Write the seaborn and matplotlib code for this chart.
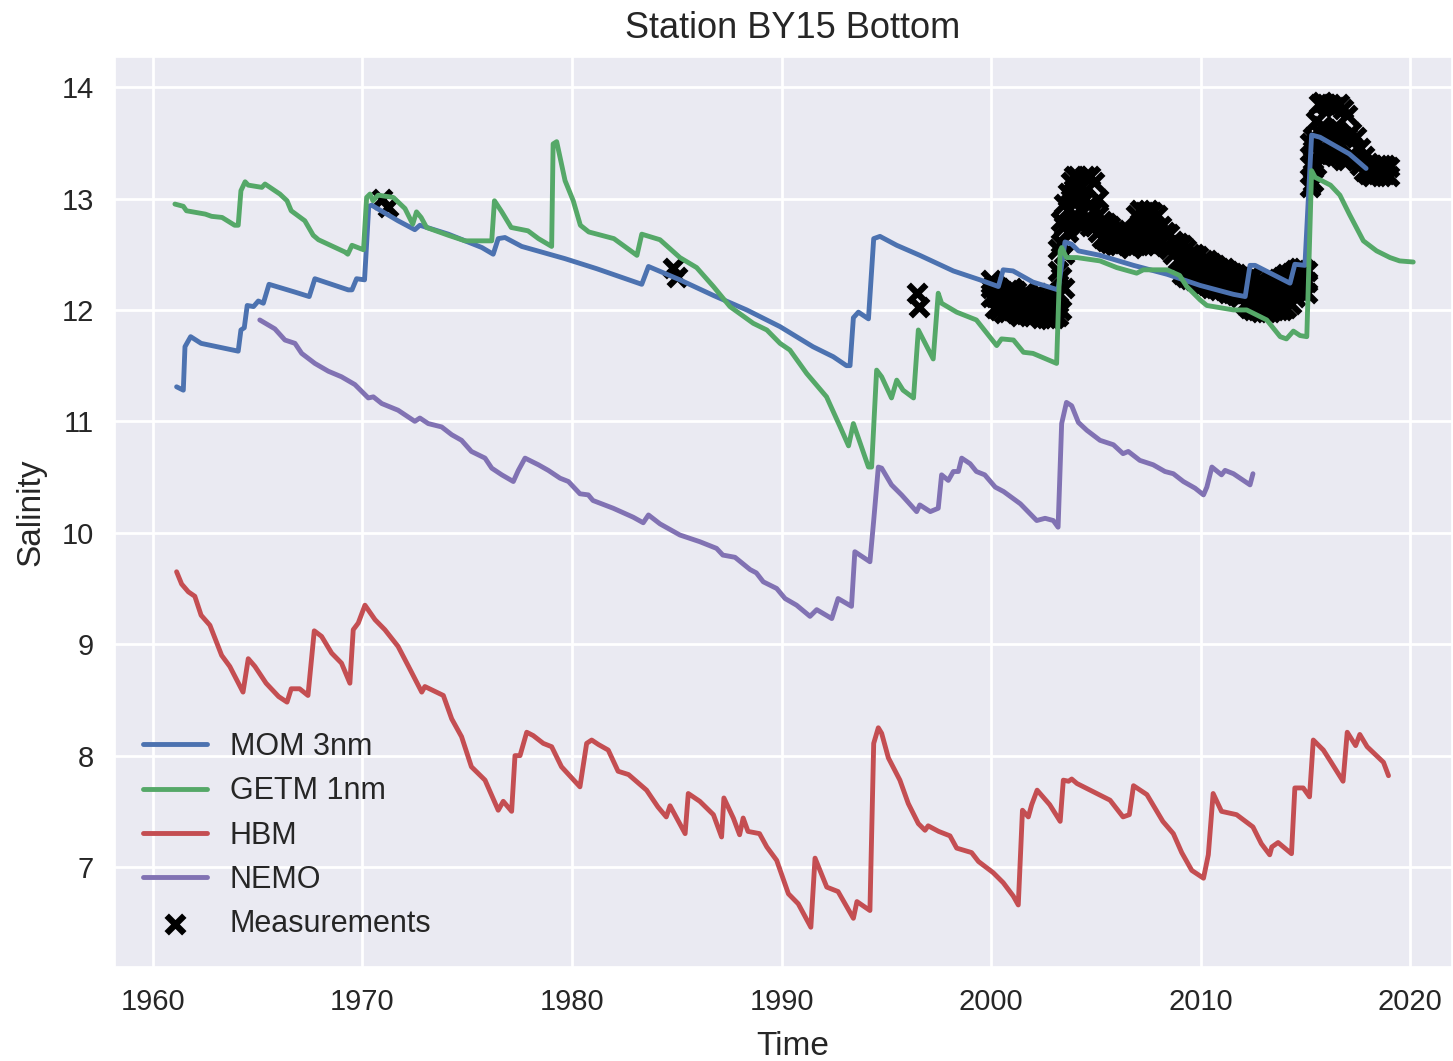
import matplotlib
matplotlib.use("Agg")
import matplotlib.pyplot as plt
import seaborn as sns

# MOM 3nm bottom salinity (decimal year, psu)
mom_years = [1961.13, 1961.45, 1961.53, 1961.8, 1962.3, 1964.07, 1964.2, 1964.36, 1964.5, 1964.8,
             1965.03, 1965.27, 1965.54, 1966.78, 1967.46, 1967.73, 1969.32, 1969.5, 1969.72, 1970.1,
             1970.3, 1970.44, 1971.7, 1972.5, 1972.74, 1974.1, 1975.7, 1976.24, 1976.48, 1976.8,
             1977.6, 1979.67, 1981.18, 1983.33, 1983.65, 1985.15, 1986.75, 1988.34, 1989.93, 1991.5,
             1992.47, 1993.1, 1993.27, 1993.43, 1993.67, 1994.15, 1994.4, 1994.7, 1995.5, 1996.6,
             1998.2, 1999.47, 2000.35, 2000.58, 2001.05, 2002.0, 2003.2, 2003.53, 2003.85, 2004.17,
             2005.2, 2006.8, 2008.4, 2009.98, 2011.57, 2012.13, 2012.36, 2012.6, 2014.27, 2014.5,
             2014.98, 2015.3, 2015.7, 2017.1, 2017.9]
mom_sal = [11.31, 11.28, 11.67, 11.76, 11.70, 11.63, 11.82, 11.84, 12.04, 12.03,
           12.08, 12.06, 12.23, 12.16, 12.12, 12.28, 12.18, 12.18, 12.28, 12.27,
           12.93, 12.94, 12.80, 12.72, 12.76, 12.68, 12.56, 12.50, 12.64, 12.65,
           12.57, 12.46, 12.37, 12.23, 12.39, 12.27, 12.13, 12.00, 11.85, 11.67,
           11.58, 11.50, 11.50, 11.93, 11.98, 11.92, 12.64, 12.66, 12.58, 12.49,
           12.35, 12.27, 12.21, 12.36, 12.35, 12.25, 12.18, 12.61, 12.59, 12.53,
           12.49, 12.40, 12.32, 12.22, 12.14, 12.12, 12.40, 12.40, 12.24, 12.41,
           12.40, 13.57, 13.55, 13.40, 13.27]

# GETM 1nm
getm_years = [1961.05, 1961.45, 1961.6, 1962.5, 1962.8, 1963.3, 1963.9, 1964.07, 1964.2, 1964.4,
              1964.55, 1965.2, 1965.35, 1966.06, 1966.4, 1966.6, 1967.25, 1967.65, 1967.9, 1969.16,
              1969.3, 1969.5, 1970.05, 1970.2, 1970.36, 1970.5, 1970.75, 1971.47, 1972.03, 1972.4,
              1972.58, 1972.8, 1973.06, 1974.1, 1974.9, 1976.17, 1976.3, 1976.65, 1977.1, 1977.9,
              1978.4, 1979.03, 1979.1, 1979.27, 1979.67, 1980.06, 1980.4, 1980.8, 1982.0, 1983.1,
              1983.33, 1984.2, 1985.15, 1985.95, 1986.75, 1987.54, 1988.65, 1989.3, 1989.93, 1990.4,
              1991.2, 1992.15, 1992.8, 1993.2, 1993.43, 1994.15, 1994.3, 1994.54, 1994.78, 1995.25,
              1995.5, 1995.8, 1996.3, 1996.53, 1997.24, 1997.48, 1997.64, 1998.36, 1999.3, 2000.27,
              2000.5, 2001.07, 2001.55, 2002.0, 2003.13, 2003.3, 2003.37, 2003.6, 2004.1, 2005.2,
              2006.0, 2006.95, 2007.27, 2008.4, 2009.0, 2009.34, 2009.98, 2010.3, 2011.57, 2012.2,
              2013.16, 2013.8, 2014.1, 2014.43, 2014.75, 2015.07, 2015.3, 2015.47, 2016.2, 2016.65,
              2017.1, 2017.77, 2018.4, 2019.04, 2019.5, 2020.15]
getm_sal = [12.95, 12.93, 12.89, 12.86, 12.84, 12.83, 12.76, 12.76, 13.07, 13.15,
            13.12, 13.10, 13.13, 13.04, 12.98, 12.89, 12.80, 12.67, 12.63, 12.52,
            12.50, 12.58, 12.54, 13.01, 13.04, 12.98, 13.03, 13.01, 12.91, 12.77,
            12.88, 12.83, 12.74, 12.67, 12.62, 12.62, 12.98, 12.88, 12.74, 12.71,
            12.64, 12.57, 13.49, 13.51, 13.16, 12.98, 12.76, 12.70, 12.64, 12.49,
            12.68, 12.63, 12.47, 12.38, 12.21, 12.03, 11.88, 11.82, 11.70, 11.64,
            11.43, 11.22, 10.95, 10.78, 10.98, 10.59, 10.59, 11.46, 11.40, 11.21,
            11.37, 11.28, 11.21, 11.82, 11.56, 12.15, 12.06, 11.98, 11.91, 11.68,
            11.74, 11.73, 11.62, 11.61, 11.52, 12.53, 12.56, 12.47, 12.47, 12.44,
            12.38, 12.33, 12.36, 12.36, 12.31, 12.21, 12.09, 12.04, 12.00, 12.00,
            11.91, 11.76, 11.74, 11.81, 11.77, 11.76, 13.25, 13.19, 13.12, 13.03,
            12.86, 12.62, 12.53, 12.47, 12.44, 12.43]

# HBM
hbm_years = [1961.13, 1961.37, 1961.69, 1962.0, 1962.3, 1962.72, 1963.28, 1963.67, 1964.3, 1964.55,
             1964.87, 1965.4, 1966.0, 1966.4, 1966.6, 1967.0, 1967.4, 1967.7, 1968.05, 1968.53,
             1969.0, 1969.4, 1969.56, 1969.8, 1970.12, 1970.6, 1971.07, 1971.7, 1972.2, 1972.83,
             1972.98, 1973.86, 1974.26, 1974.73, 1975.2, 1975.85, 1976.48, 1976.72, 1977.12, 1977.28,
             1977.52, 1977.84, 1978.15, 1978.63, 1979.03, 1979.5, 1980.38, 1980.7, 1980.94, 1981.26,
             1981.73, 1982.2, 1982.7, 1983.56, 1984.1, 1984.5, 1984.68, 1985.4, 1985.55, 1986.1,
             1986.75, 1987.14, 1987.25, 1987.7, 1988.0, 1988.17, 1988.4, 1988.95, 1989.3, 1989.77,
             1990.33, 1990.8, 1991.4, 1991.6, 1992.16, 1992.7, 1993.43, 1993.6, 1994.22, 1994.4,
             1994.62, 1994.78, 1995.1, 1995.65, 1996.05, 1996.53, 1996.85, 1997.0, 1997.5, 1998.04,
             1998.36, 1999.07, 1999.4, 2000.1, 2000.58, 2001.06, 2001.3, 2001.5, 2001.78, 2001.94,
             2002.2, 2002.8, 2003.3, 2003.45, 2003.7, 2003.85, 2004.1, 2005.68, 2006.3, 2006.6,
             2006.8, 2007.44, 2008.2, 2008.7, 2009.1, 2009.58, 2010.14, 2010.37, 2010.6, 2011.0,
             2011.72, 2012.5, 2012.9, 2013.3, 2013.4, 2013.7, 2014.34, 2014.5, 2014.9, 2015.2,
             2015.38, 2015.86, 2016.2, 2016.8, 2017.0, 2017.4, 2017.6, 2017.95, 2018.73, 2018.97]
hbm_sal = [9.65, 9.54, 9.47, 9.43, 9.26, 9.17, 8.90, 8.80, 8.57, 8.87,
           8.80, 8.65, 8.53, 8.48, 8.60, 8.60, 8.54, 9.12, 9.07, 8.92,
           8.83, 8.65, 9.13, 9.19, 9.35, 9.22, 9.13, 8.98, 8.80, 8.57,
           8.62, 8.54, 8.33, 8.17, 7.90, 7.78, 7.51, 7.59, 7.50, 8.00,
           8.00, 8.21, 8.18, 8.11, 8.08, 7.90, 7.72, 8.11, 8.14, 8.10,
           8.05, 7.86, 7.83, 7.69, 7.54, 7.45, 7.55, 7.30, 7.66, 7.59,
           7.47, 7.27, 7.62, 7.44, 7.29, 7.44, 7.32, 7.30, 7.18, 7.06,
           6.76, 6.67, 6.46, 7.08, 6.82, 6.78, 6.54, 6.69, 6.61, 8.11,
           8.25, 8.20, 7.98, 7.78, 7.57, 7.39, 7.33, 7.37, 7.32, 7.28,
           7.17, 7.13, 7.05, 6.95, 6.86, 6.74, 6.66, 7.51, 7.45, 7.56,
           7.69, 7.56, 7.41, 7.78, 7.77, 7.79, 7.75, 7.60, 7.45, 7.47,
           7.73, 7.65, 7.41, 7.30, 7.13, 6.97, 6.90, 7.11, 7.66, 7.50,
           7.47, 7.36, 7.21, 7.11, 7.18, 7.22, 7.12, 7.71, 7.71, 7.63,
           8.14, 8.05, 7.95, 7.77, 8.21, 8.09, 8.19, 8.08, 7.94, 7.82]

# NEMO
nemo_years = [1965.1, 1965.82, 1966.3, 1966.78, 1967.1, 1967.73, 1968.37, 1969.0, 1969.64, 1970.28,
              1970.52, 1970.92, 1971.7, 1972.5, 1972.74, 1973.14, 1973.78, 1974.26, 1974.73, 1975.2,
              1975.85, 1976.17, 1976.65, 1977.2, 1977.44, 1977.76, 1978.4, 1978.87, 1979.43, 1979.83,
              1980.38, 1980.78, 1981.0, 1981.97, 1982.92, 1983.4, 1983.65, 1984.2, 1985.15, 1986.1,
              1986.9, 1987.2, 1987.78, 1988.5, 1988.8, 1989.13, 1989.77, 1990.17, 1990.72, 1991.36,
              1991.68, 1992.4, 1992.7, 1993.34, 1993.5, 1994.22, 1994.4, 1994.62, 1994.78, 1995.25,
              1995.73, 1996.45, 1996.6, 1997.1, 1997.48, 1997.64, 1997.96, 1998.2, 1998.44, 1998.6,
              1999.0, 1999.3, 1999.7, 2000.2, 2000.6, 2001.4, 2002.18, 2002.58, 2002.97, 2003.2,
              2003.37, 2003.6, 2003.85, 2004.17, 2004.57, 2005.2, 2005.84, 2006.3, 2006.55, 2007.1,
              2007.74, 2008.3, 2008.7, 2009.18, 2009.74, 2010.14, 2010.3, 2010.54, 2011.0, 2011.17,
              2011.57, 2012.36, 2012.5]
nemo_sal = [11.91, 11.83, 11.73, 11.70, 11.61, 11.52, 11.45, 11.40, 11.33, 11.21,
            11.22, 11.16, 11.10, 11.00, 11.03, 10.98, 10.95, 10.88, 10.83, 10.73,
            10.67, 10.58, 10.52, 10.46, 10.56, 10.67, 10.61, 10.56, 10.49, 10.46,
            10.35, 10.34, 10.29, 10.22, 10.14, 10.09, 10.16, 10.08, 9.98, 9.92,
            9.86, 9.80, 9.78, 9.67, 9.64, 9.56, 9.50, 9.41, 9.35, 9.25,
            9.31, 9.23, 9.41, 9.34, 9.83, 9.74, 10.11, 10.59, 10.58, 10.43,
            10.34, 10.19, 10.25, 10.19, 10.22, 10.52, 10.47, 10.55, 10.55, 10.67,
            10.62, 10.55, 10.52, 10.41, 10.37, 10.26, 10.11, 10.13, 10.11, 10.05,
            10.98, 11.17, 11.14, 10.99, 10.92, 10.83, 10.79, 10.71, 10.73, 10.65,
            10.61, 10.55, 10.53, 10.46, 10.40, 10.34, 10.41, 10.59, 10.52, 10.56,
            10.53, 10.43, 10.53]

# station measurements: sampling date and the salinities read at that date
obs_dates = [1970.95, 1971.2, 1984.8, 1985.0, 1996.45, 1996.55,
             2000.0, 2000.2, 2000.4, 2000.6, 2000.8, 2001.0, 2001.2, 2001.4, 2001.6, 2001.8,
             2002.0, 2002.2, 2002.4, 2002.6, 2002.8, 2003.0,
             2003.2, 2003.35, 2003.5, 2003.65, 2003.8, 2003.95,
             2004.1, 2004.3, 2004.5, 2004.7, 2004.9,
             2005.1, 2005.3, 2005.5, 2005.7, 2005.9, 2006.1, 2006.3, 2006.5, 2006.7,
             2006.9, 2007.1, 2007.3, 2007.5, 2007.7, 2007.9, 2008.1, 2008.3, 2008.5, 2008.7, 2008.9,
             2009.1, 2009.3, 2009.5, 2009.7, 2009.9, 2010.1, 2010.3, 2010.5, 2010.7, 2010.9,
             2011.1, 2011.3, 2011.5, 2011.7, 2011.9,
             2012.1, 2012.3, 2012.5, 2012.7, 2012.9, 2013.1, 2013.3, 2013.5, 2013.7, 2013.9,
             2014.1, 2014.3, 2014.5, 2014.7, 2014.9, 2015.1,
             2015.2, 2015.35, 2015.5, 2015.65, 2015.8, 2016.0, 2016.2, 2016.4, 2016.6, 2016.8,
             2017.0, 2017.2, 2017.4, 2017.6, 2017.8, 2018.0, 2018.2, 2018.4, 2018.6, 2018.8, 2019.0]
obs_sal = [[13.00], [12.92], [12.38], [12.30], [12.15], [12.03],
           [12.27, 12.20, 12.12], [12.22, 12.12, 12.02], [12.20, 12.10, 12.00], [12.15, 12.05, 11.97],
           [12.18, 12.08, 11.98], [12.20, 12.10, 12.00], [12.17, 12.07, 11.97], [12.12, 12.03, 11.95],
           [12.15, 12.05, 11.96], [12.13, 12.03, 11.95], [12.12, 12.02, 11.95], [12.15, 12.05, 11.96],
           [12.12, 12.02, 11.93], [12.10, 12.00, 11.93], [12.08, 11.98, 11.92], [12.10, 12.00, 11.93],
           [11.95, 12.15, 12.35, 12.55], [12.00, 12.30, 12.60, 12.80], [12.20, 12.50, 12.75, 12.95],
           [12.70, 12.90, 13.05], [12.80, 13.00, 13.15], [12.85, 13.05, 13.20],
           [13.20, 13.00, 12.80], [13.10, 12.90, 12.75], [13.20, 13.00, 12.80], [13.20, 12.95, 12.75],
           [13.15, 12.90, 12.75],
           [13.00, 12.85, 12.70], [12.80, 12.65], [12.78, 12.62], [12.75, 12.60], [12.72, 12.58],
           [12.70, 12.58], [12.72, 12.60], [12.70, 12.58], [12.68, 12.56],
           [12.85, 12.70, 12.58], [12.90, 12.75, 12.60], [12.88, 12.72, 12.58], [12.90, 12.75, 12.60],
           [12.88, 12.72, 12.58], [12.85, 12.70, 12.58], [12.75, 12.62], [12.70, 12.57], [12.68, 12.55],
           [12.62, 12.50], [12.60, 12.45],
           [12.58, 12.45, 12.32], [12.55, 12.42, 12.30], [12.50, 12.40, 12.28], [12.50, 12.38, 12.27],
           [12.48, 12.36, 12.25], [12.45, 12.35, 12.23], [12.45, 12.32, 12.22], [12.42, 12.30, 12.20],
           [12.40, 12.30, 12.20], [12.38, 12.28, 12.18], [12.38, 12.27, 12.18], [12.35, 12.25, 12.15],
           [12.33, 12.23, 12.15], [12.32, 12.22, 12.13], [12.30, 12.20, 12.12],
           [12.28, 12.15, 12.05], [12.30, 12.15, 12.02], [12.30, 12.15, 12.00], [12.25, 12.12, 12.00],
           [12.25, 12.10, 11.98], [12.22, 12.10, 11.98], [12.25, 12.10, 11.98], [12.25, 12.12, 12.00],
           [12.28, 12.12, 12.00], [12.30, 12.15, 12.00], [12.32, 12.18, 12.02], [12.33, 12.20, 12.05],
           [12.36, 12.25, 12.12], [12.38, 12.28, 12.18], [12.38, 12.28, 12.18], [12.35, 12.25, 12.15],
           [13.10, 13.30, 13.50], [13.15, 13.35, 13.55], [13.30, 13.50, 13.70], [13.40, 13.60, 13.85],
           [13.45, 13.65, 13.87], [13.42, 13.62, 13.85], [13.40, 13.60, 13.85], [13.38, 13.58, 13.82],
           [13.38, 13.58, 13.85], [13.35, 13.55, 13.80], [13.35, 13.55, 13.75], [13.40, 13.60],
           [13.35, 13.55], [13.30, 13.45], [13.25, 13.38], [13.22, 13.32], [13.20, 13.30],
           [13.22, 13.30], [13.20, 13.30], [13.22, 13.30], [13.20, 13.28]]

obs_x = [d for d, vals in zip(obs_dates, obs_sal) for _ in vals]
obs_y = [v for vals in obs_sal for v in vals]

year_ticks = [1960, 1970, 1980, 1990, 2000, 2010, 2020]
sal_ticks = [7, 8, 9, 10, 11, 12, 13, 14]

sns.set_theme(style="darkgrid")
plt.rcParams["font.family"] = ["Liberation Sans", "DejaVu Sans"]
plt.rcParams["grid.linewidth"] = 2.0

pal = sns.color_palette("deep")

fig = plt.figure(figsize=(14.53, 10.61), dpi=100)
ax = fig.add_axes([115 / 1453, 94 / 1061, 1337 / 1453, 910 / 1061])

lw = 3.5
sns.lineplot(x=mom_years, y=mom_sal, ax=ax, color=pal[0], lw=lw, label="MOM 3nm", sort=False, estimator=None)
sns.lineplot(x=getm_years, y=getm_sal, ax=ax, color=pal[2], lw=lw, label="GETM 1nm", sort=False, estimator=None)
sns.lineplot(x=hbm_years, y=hbm_sal, ax=ax, color=pal[3], lw=lw, label="HBM", sort=False, estimator=None)
sns.lineplot(x=nemo_years, y=nemo_sal, ax=ax, color=pal[4], lw=lw, label="NEMO", sort=False, estimator=None)
sns.scatterplot(x=obs_x, y=obs_y, ax=ax, marker="x", color="black", s=160, linewidth=4.5,
                label="Measurements", zorder=1.5)

ax.set_xlim(1958.19, 2022.0)
ax.set_ylim(6.103, 14.27)
ax.set_xticks(year_ticks)
ax.set_yticks(sal_ticks)
ax.tick_params(axis="both", labelsize=21, pad=9)

ax.set_title("Station BY15 Bottom", fontsize=26, pad=14, x=0.507)
ax.set_xlabel("Time", fontsize=24, labelpad=11, x=0.507)
ax.set_ylabel("Salinity", fontsize=24, labelpad=11)

ax.legend(loc="lower left", fontsize=22, frameon=False, handlelength=2.1, handletextpad=0.75,
          labelspacing=0.47)

plt.savefig("out.png", dpi=100)
